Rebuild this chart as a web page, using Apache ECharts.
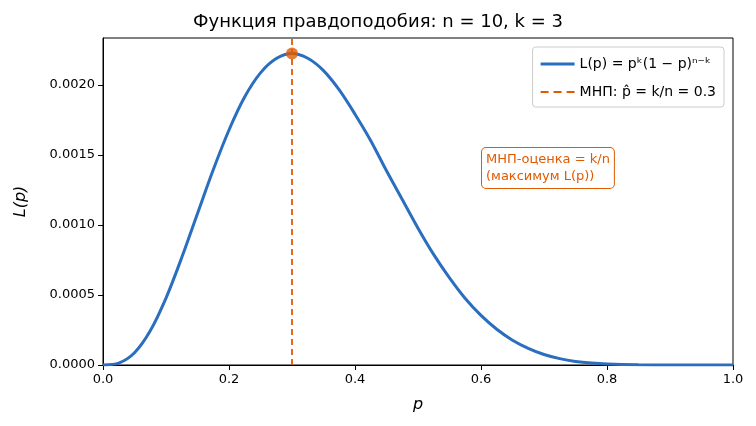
<!DOCTYPE html>
<html><head><meta charset="utf-8">
<script src="https://cdn.jsdelivr.net/npm/echarts@6/dist/echarts.min.js"></script>
<style>html,body{margin:0;padding:0;background:#fff}#c{width:756px;height:426px}</style>
</head><body><div id="c"></div>
<script>
const pValues = [0,0.025,0.05,0.075,0.1,0.125,0.15,0.175,0.2,0.225,0.25,0.275,0.3,0.325,0.35,0.375,0.4,0.425,0.45,0.475,0.5,0.525,0.55,0.575,0.6,0.625,0.65,0.675,0.7,0.725,0.75,0.775,0.8,0.85,0.9,0.95,1];
const lValues = [0,0.00001309,0.0000873,0.0002444,0.000478,0.000767,0.001082,0.001394,0.001678,0.001915,0.002086,0.002188,0.002224,0.002190,0.002102,0.001964,0.001791,0.001602,0.001387,0.001182,0.000977,0.000788,0.000622,0.000475,0.000354,0.000255,0.000177,0.000119,0.000075,0.0000456,0.0000257,0.0000136,0.0000066,0.00000105,0.00000007,0,0];
const mleP = 0.3, mleL = 0.002224;
const yTicks = [0,0.0005,0.001,0.0015,0.002];
const chart = echarts.init(document.getElementById('c'));
const f = 'DejaVu Sans';
chart.setOption({
  animation:false,
  title:{text:'Функция правдоподобия: n = 10, k = 3',left:'center',top:8,textStyle:{fontFamily:f,fontSize:18,fontWeight:'normal',color:'#000'}},
  grid:{left:103,right:23,top:38,bottom:61,show:true,borderColor:'#000',borderWidth:1},
  legend:{top:47,right:32,orient:'vertical',itemWidth:34,itemHeight:3,itemGap:14,
    backgroundColor:'#fff',borderColor:'#ccc',borderWidth:1,borderRadius:3,padding:[10,8,8,8],
    textStyle:{fontFamily:f,fontSize:14,color:'#000'},
    data:[{name:'L(p) = pᵏ(1 − p)ⁿ⁻ᵏ',icon:'rect'},{name:'МНП: p̂ = k/n = 0.3',icon:'path://M0,0H8V2H0Z M13,0H21V2H13Z M26,0H34V2H26Z'}]},
  xAxis:{type:'value',min:0,max:1,interval:0.2,name:'p',nameLocation:'middle',nameGap:32,
    nameTextStyle:{fontFamily:f,fontSize:16,fontStyle:'italic',color:'#000'},
    axisLine:{lineStyle:{color:'#000'}},axisTick:{show:true,length:5,lineStyle:{color:'#000'}},splitLine:{show:false},
    axisLabel:{fontFamily:f,fontSize:13,color:'#000',formatter:v=>v.toFixed(1)}},
  yAxis:{type:'value',min:0,max:0.002335,interval:0.0005,name:'L(p)',nameLocation:'middle',nameGap:74,
    nameTextStyle:{fontFamily:f,fontSize:16,fontStyle:'italic',color:'#000'},
    axisLine:{show:true,lineStyle:{color:'#000'}},axisTick:{show:true,length:5,lineStyle:{color:'#000'}},splitLine:{show:false},
    axisLabel:{fontFamily:f,fontSize:13,color:'#000',showMaxLabel:false,formatter:v=>yTicks.some(t=>Math.abs(t-v)<1e-9)?v.toFixed(4):''}},
  series:[
    {name:'L(p) = pᵏ(1 − p)ⁿ⁻ᵏ',type:'line',smooth:0.3,symbol:'none',data:pValues.map((p,i)=>[p,lValues[i]]),
     lineStyle:{color:'#2a6ebf',width:3},itemStyle:{color:'#2a6ebf'}},
    {name:'МНП: p̂ = k/n = 0.3',type:'line',data:[[mleP,0],[mleP,0.002335]],symbol:'none',
     lineStyle:{color:'#e05a00',width:1.8,type:[6,4]},itemStyle:{color:'#e05a00'}},
    {type:'scatter',data:[[mleP,mleL]],symbolSize:12,itemStyle:{color:'#e05a00'},z:5}
  ],
  graphic:[{type:'text',left:481,top:147,style:{text:'МНП-оценка = k/n\n(максимум L(p))',fontFamily:f,fontSize:13,lineHeight:17,fill:'#e05a00',
    backgroundColor:'#fff',borderColor:'#e05a00',borderWidth:1,borderRadius:4,padding:[3,4]}}]
});
</script></body></html>
